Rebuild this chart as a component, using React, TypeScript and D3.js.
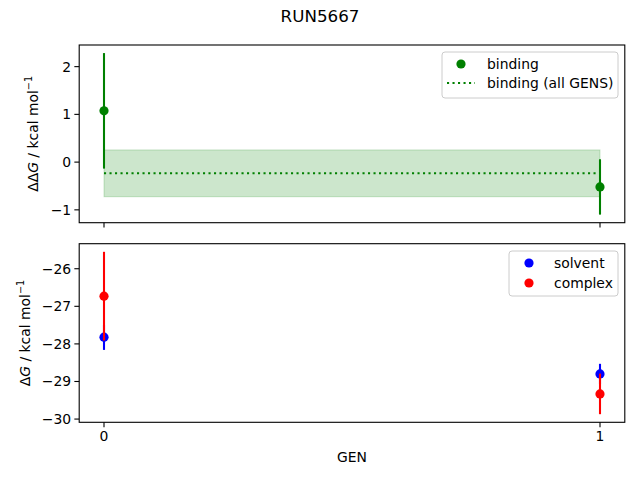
import React from 'react'
import * as d3 from 'd3'

// GEN indices and free energies
const gens = [0, 1]
const bindingDG = [1.074, -0.52]
const bindingErr = [1.21, 0.58]
const bindingAllMean = -0.235
const bindingAllErr = 0.49

const solventDG = [-27.82, -28.8]
const solventErr = [0.34, 0.27]
const complexDG = [-26.73, -29.33]
const complexErr = [1.18, 0.54]

const topTicks = [-1, 0, 1, 2]
const bottomTicks = [-30, -29, -28, -27, -26]

const W = 640
const H = 480
const left = 79.2
const right = 624.8
const font = "'DejaVu Sans', sans-serif"
const fs = 13.9

function padded(lo: number, hi: number): [number, number] {
    const m = (hi - lo) * 0.05
    return [lo - m, hi + m]
}

function YLabel({ x, y, pre }: { x: number, y: number, pre: string }) {
    return <text transform={`translate(${x},${y}) rotate(-90)`} textAnchor="middle" fontSize={fs} fontFamily={font} fill="#000">
        {pre}<tspan fontStyle="italic">G</tspan> / kcal mol<tspan fontSize={fs * 0.7} dy={-6}>−1</tspan>
    </text>
}

function App() {
    const x = d3.scaleLinear().domain([-0.05, 1.05]).range([left, right])

    // top panel
    const tTop = 45, tBot = 222.7
    const topLo = d3.min([...bindingDG.map((d, i) => d - bindingErr[i]), bindingAllMean - bindingAllErr])!
    const topHi = d3.max([...bindingDG.map((d, i) => d + bindingErr[i]), bindingAllMean + bindingAllErr])!
    const yT = d3.scaleLinear().domain(padded(topLo, topHi)).range([tBot, tTop])

    // bottom panel
    const bTop = 243.7, bBot = 422.3
    const allLo = [...solventDG.map((d, i) => d - solventErr[i]), ...complexDG.map((d, i) => d - complexErr[i])]
    const allHi = [...solventDG.map((d, i) => d + solventErr[i]), ...complexDG.map((d, i) => d + complexErr[i])]
    const yB = d3.scaleLinear().domain(padded(d3.min(allLo)!, d3.max(allHi)!)).range([bBot, bTop])

    const r = 4.6
    const lw = 2.08

    const errPoints = (vals: number[], errs: number[], y: d3.ScaleLinear<number, number>, color: string, key: string) =>
        <g key={key}>
            {gens.map((g, i) => <line key={'e' + i} x1={x(g)} x2={x(g)} y1={y(vals[i] - errs[i])} y2={y(vals[i] + errs[i])} stroke={color} strokeWidth={lw} />)}
            {gens.map((g, i) => <circle key={'c' + i} cx={x(g)} cy={y(vals[i])} r={r} fill={color} />)}
        </g>

    const xTicks = (yb: number, labels: boolean) => gens.map(g =>
        <g key={g}>
            <line x1={x(g)} x2={x(g)} y1={yb} y2={yb + 4.86} stroke="#000" strokeWidth={1.1} />
            {labels && <text x={x(g)} y={yb + 19} textAnchor="middle" fontSize={fs} fontFamily={font}>{g}</text>}
        </g>)

    const yTicks = (ticks: number[], y: d3.ScaleLinear<number, number>) => ticks.map(t =>
        <g key={t}>
            <line x1={left - 4.86} x2={left} y1={y(t)} y2={y(t)} stroke="#000" strokeWidth={1.1} />
            <text x={left - 8} y={y(t) + 5} textAnchor="end" fontSize={fs} fontFamily={font}>{t < 0 ? '−' + Math.abs(t) : t}</text>
        </g>)

    return <div style={{ position: 'absolute', left: 0, top: 0 }}>
        <svg width={W} height={H} style={{ display: 'block', background: '#fff' }}>
            <text x={W / 2} y={22} textAnchor="middle" fontSize={16.7} fontFamily={font}>RUN5667</text>

            {/* top panel */}
            <rect x={x(0)} y={yT(bindingAllMean + bindingAllErr)} width={x(1) - x(0)} height={yT(bindingAllMean - bindingAllErr) - yT(bindingAllMean + bindingAllErr)}
                fill="green" fillOpacity={0.2} stroke="green" strokeOpacity={0.2} strokeWidth={1} />
            <line x1={x(0)} x2={x(1)} y1={yT(bindingAllMean)} y2={yT(bindingAllMean)} stroke="green" strokeWidth={lw} strokeDasharray="2.1,3.4" />
            {errPoints(bindingDG, bindingErr, yT, 'green', 'bind')}
            <rect x={left} y={tTop} width={right - left} height={tBot - tTop} fill="none" stroke="#000" strokeWidth={1.1} />
            {xTicks(tBot, false)}
            {yTicks(topTicks, yT)}
            <YLabel x={38} y={(tTop + tBot) / 2} pre="ΔΔ" />

            <rect x={442} y={52} width={176} height={46} rx={3} fill="#fff" fillOpacity={0.8} stroke="#ccc" />
            <circle cx={461} cy={64} r={r} fill="green" />
            <text x={487} y={69} fontSize={fs} fontFamily={font}>binding</text>
            <line x1={447} x2={475} y1={83} y2={83} stroke="green" strokeWidth={lw} strokeDasharray="2.1,3.4" />
            <text x={487} y={88} fontSize={fs} fontFamily={font}>binding (all GENS)</text>

            {/* bottom panel */}
            {errPoints(solventDG, solventErr, yB, 'blue', 'solv')}
            {errPoints(complexDG, complexErr, yB, 'red', 'cplx')}
            <rect x={left} y={bTop} width={right - left} height={bBot - bTop} fill="none" stroke="#000" strokeWidth={1.1} />
            {xTicks(bBot, true)}
            {yTicks(bottomTicks, yB)}
            <YLabel x={30} y={(bTop + bBot) / 2} pre="Δ" />
            <text x={(left + right) / 2} y={462} textAnchor="middle" fontSize={fs} fontFamily={font}>GEN</text>

            <rect x={509} y={251} width={109} height={45} rx={3} fill="#fff" fillOpacity={0.8} stroke="#ccc" />
            <circle cx={529} cy={263} r={r} fill="blue" />
            <text x={554} y={268} fontSize={fs} fontFamily={font}>solvent</text>
            <circle cx={529} cy={283} r={r} fill="red" />
            <text x={554} y={288} fontSize={fs} fontFamily={font}>complex</text>
        </svg>
    </div>
}

export default App
